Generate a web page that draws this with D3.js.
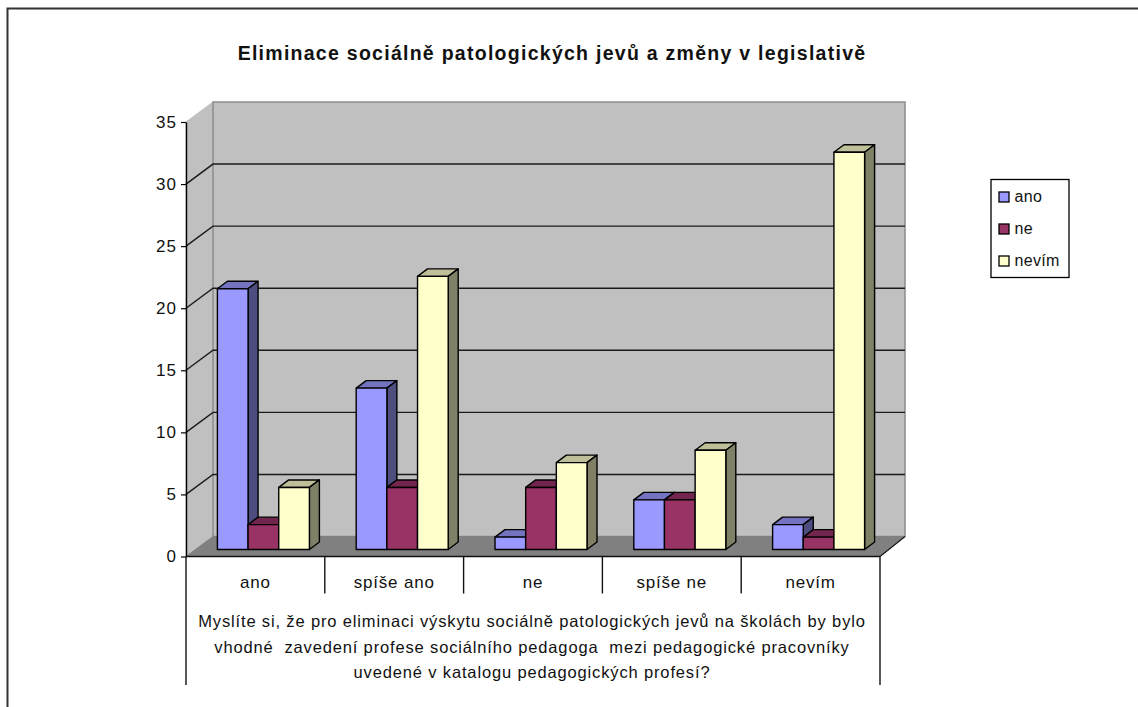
<!DOCTYPE html>
<html>
<head>
<meta charset="utf-8">
<script src="https://cdn.jsdelivr.net/npm/d3@7"></script>
<style>
html, body { margin: 0; padding: 0; background: #fff; }
text { font-family: "Liberation Sans", Arial, sans-serif; fill: #111; }
</style>
</head>
<body>
<div id="chart"></div>
<script>
const categories = ["ano", "spíše ano", "ne", "spíše ne", "nevím"];
const seriesNames = ["ano", "ne", "nevím"];
const ano = [21, 13, 1, 4, 2];
const ne = [2, 5, 5, 4, 1];
const nevim = [5, 22, 7, 8, 32];
const yTicks = [0, 5, 10, 15, 20, 25, 30, 35];
const chartTitle = "Eliminace sociálně patologických jevů a změny v legislativě";
const axisTitle = [
  "Myslíte si, že pro eliminaci výskytu sociálně patologických jevů na školách by bylo",
  "vhodné  zavedení profese sociálního pedagoga  mezi pedagogické pracovníky",
  "uvedené v katalogu pedagogických profesí?"
];

const colors = {
  ano: { front: "#9999ff", top: "#7373bf", side: "#4d4d80" },
  ne: { front: "#993366", top: "#73264d", side: "#4d1a33" },
  "nevím": { front: "#ffffcc", top: "#bfbf99", side: "#808066" }
};

const w = 1138, h = 707;
const svg = d3.select("#chart").append("svg")
  .attr("width", w).attr("height", h)
  .style("display", "block");

const plot = { left: 186, right: 880, base: 556.5, top: 122 };
const depthX = 27, depthY = 20;     // wall offset
const barDX = 10, barDY = 7.5;      // bar depth
const barLift = 7, barShift = 8;    // bars stand in the middle of the floor

const y = d3.scaleLinear().domain([0, 35]).range([plot.base, plot.top]);
const x = d3.scaleBand().domain(categories).range([plot.left, plot.right]);
const xBar = d3.scaleBand().domain(seriesNames).range([0, 92]);
const groupStart = (x.bandwidth() - xBar.range()[1]) / 2 + barShift;

// side wall, floor, back wall
const walls = svg.append("g");
walls.append("polygon")
  .attr("points", [[plot.left, plot.top], [plot.left + depthX, plot.top - depthY], [plot.left + depthX, plot.base - depthY], [plot.left, plot.base]].join(" "))
  .attr("fill", "#c0c0c0").attr("stroke", "#c0c0c0");
walls.append("rect")
  .attr("x", plot.left + depthX).attr("y", plot.top - depthY)
  .attr("width", plot.right - plot.left - 2).attr("height", plot.base - plot.top)
  .attr("fill", "#c0c0c0").attr("stroke", "#8c8c8c").attr("stroke-width", 1.5);
walls.append("polygon")
  .attr("points", [[plot.left, plot.base], [plot.left + depthX, plot.base - depthY], [plot.right + depthX - 2, plot.base - depthY], [plot.right, plot.base]].join(" "))
  .attr("fill", "#808080").attr("stroke", "#808080");

// gridlines run across the back wall and fold down the side wall
const grid = svg.append("g").attr("fill", "none").attr("stroke", "#1a1a1a").attr("stroke-width", 1.4);
yTicks.filter(d => d > 0 && d < 35).forEach(d => {
  grid.append("path")
    .attr("d", d3.line()([[plot.left, y(d)], [plot.left + depthX, y(d) - depthY], [plot.right + depthX - 2, y(d) - depthY]]));
});
svg.append("path")
  .attr("d", d3.line()([[plot.right, plot.base], [plot.right + depthX - 2, plot.base - depthY]]))
  .attr("fill", "none").attr("stroke", "#1a1a1a").attr("stroke-width", 1.2);

// 3d bars, left to right so each bar covers the side of the previous one
const bars = [ano, ne, nevim];
categories.forEach((c, i) => {
  seriesNames.forEach((s, k) => {
    const v = bars[k][i];
    const x0 = x(c) + groupStart + xBar(s), x1 = x0 + xBar.bandwidth();
    const y0 = y(0) - barLift, y1 = y(v) - barLift;
    const g = svg.append("g").attr("stroke", "#000").attr("stroke-width", 1.4).attr("stroke-linejoin", "round");
    g.append("polygon")
      .attr("points", [[x0, y1], [x0 + barDX, y1 - barDY], [x1 + barDX, y1 - barDY], [x1, y1]].join(" "))
      .attr("fill", colors[s].top);
    g.append("polygon")
      .attr("points", [[x1, y1], [x1 + barDX, y1 - barDY], [x1 + barDX, y0 - barDY], [x1, y0]].join(" "))
      .attr("fill", colors[s].side);
    g.append("rect")
      .attr("x", x0).attr("y", y1)
      .attr("width", xBar.bandwidth()).attr("height", y0 - y1)
      .attr("fill", colors[s].front);
  });
});

// value axis
const yAxis = svg.append("g")
  .attr("transform", `translate(${plot.left},0)`)
  .call(d3.axisLeft(y).tickValues(yTicks).tickSize(5).tickPadding(4).tickSizeOuter(0));
yAxis.select(".domain").attr("stroke", "#000").attr("stroke-width", 1.4);
yAxis.selectAll("line").attr("stroke", "#000").attr("stroke-width", 1.2);
yAxis.selectAll("text")
  .style("font-size", "17px").style("font-family", "Liberation Sans").style("letter-spacing", "1px");

// category axis with its separators
const xLine = svg.append("g").attr("stroke", "#111").attr("stroke-width", 1.4);
xLine.append("line").attr("x1", plot.left).attr("x2", plot.right).attr("y1", plot.base).attr("y2", plot.base);
categories.forEach((c, i) => {
  if (i > 0) {
    xLine.append("line").attr("x1", x(c)).attr("x2", x(c)).attr("y1", plot.base).attr("y2", plot.base + 37);
  }
  svg.append("text")
    .attr("x", x(c) + x.bandwidth() / 2).attr("y", plot.base + 31)
    .attr("text-anchor", "middle").style("font-size", "17px").style("letter-spacing", "0.8px").text(c);
});
xLine.append("line").attr("x1", plot.left).attr("x2", plot.left).attr("y1", plot.base).attr("y2", 685);
xLine.append("line").attr("x1", plot.right).attr("x2", plot.right).attr("y1", plot.base).attr("y2", 685);

// multi-category label under the axis
axisTitle.forEach((t, i) => {
  svg.append("text")
    .attr("x", 532).attr("y", 627 + i * 25.5)
    .attr("text-anchor", "middle")
    .style("font-size", "16.5px").style("letter-spacing", "0.85px").style("white-space", "pre").text(t);
});

svg.append("text")
  .attr("x", 552).attr("y", 60).attr("text-anchor", "middle")
  .style("font-size", "19.5px").style("font-weight", "bold").style("letter-spacing", "1.27px").text(chartTitle);

// legend
const legend = svg.append("g").attr("transform", "translate(990.5,179)");
legend.append("rect").attr("x", 0.5).attr("y", 0.5).attr("width", 78).attr("height", 98)
  .attr("fill", "#fff").attr("stroke", "#000").attr("stroke-width", 1.3);
seriesNames.forEach((s, i) => {
  legend.append("rect")
    .attr("x", 8.5).attr("y", 13 + i * 32).attr("width", 10).attr("height", 10)
    .attr("fill", colors[s].front).attr("stroke", "#000").attr("stroke-width", 1.3);
  legend.append("text").attr("x", 24).attr("y", 23 + i * 32)
    .style("font-size", "16px").style("letter-spacing", "0.3px").text(s);
});

// frame lines along the top and left edge
svg.append("path").attr("d", "M7.5,707V8.5H1138").attr("fill", "none").attr("stroke", "#333").attr("stroke-width", 2);
</script>
</body>
</html>
